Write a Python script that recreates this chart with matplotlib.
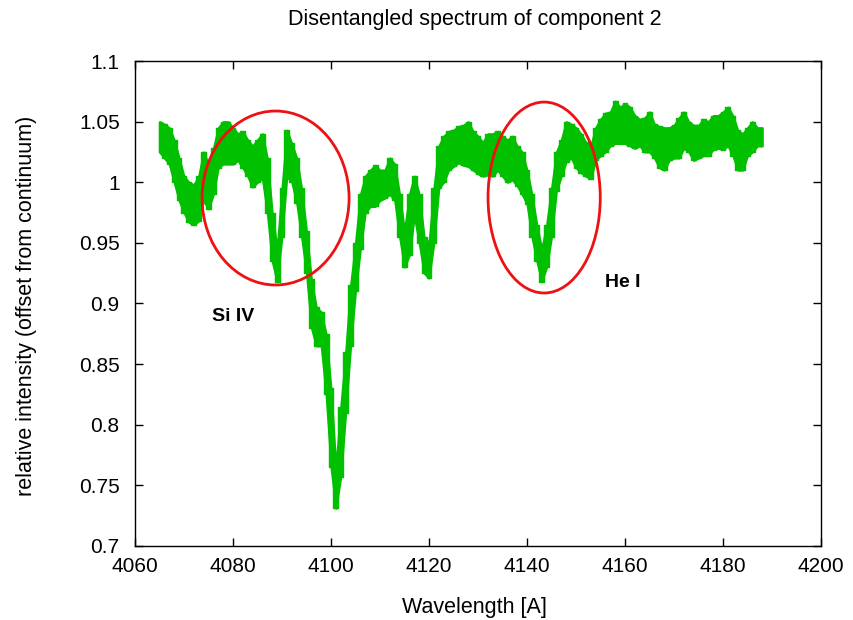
import numpy as np
import matplotlib
matplotlib.use('Agg')
import matplotlib.pyplot as plt
from matplotlib.patches import Ellipse

# Wavelength grid (Angstrom), 1 A step
wl_start, wl_stop = 4065, 4188
# Upper and lower edge of the noisy spectrum band at each wavelength
flux_hi = [1.050, 1.048, 1.045, 1.035, 1.020, 1.005, 1.000, 0.998, 1.005, 1.025,
           1.015, 1.028, 1.045, 1.050, 1.050, 1.045, 1.040, 1.042, 1.035, 1.030,
           1.035, 1.040, 1.020, 0.975, 0.945, 0.995, 1.043, 1.032, 1.020, 0.995,
           0.960, 0.920, 0.897, 0.893, 0.875, 0.830, 0.765, 0.815, 0.860, 0.915,
           0.950, 0.990, 1.005, 1.010, 1.014, 1.010, 1.010, 1.020, 1.015, 0.990,
           0.960, 0.990, 1.005, 0.990, 0.955, 0.950, 0.995, 1.030, 1.038, 1.042,
           1.043, 1.046, 1.047, 1.050, 1.042, 1.038, 1.033, 1.040, 1.040, 1.042,
           1.038, 1.035, 1.038, 1.030, 1.025, 1.010, 0.990, 0.965, 0.945, 0.965,
           0.995, 1.025, 1.035, 1.050, 1.048, 1.045, 1.040, 1.033, 1.030, 1.045,
           1.052, 1.057, 1.058, 1.067, 1.062, 1.065, 1.062, 1.055, 1.052, 1.053,
           1.058, 1.048, 1.046, 1.045, 1.045, 1.047, 1.053, 1.058, 1.050, 1.047,
           1.047, 1.052, 1.050, 1.055, 1.055, 1.058, 1.062, 1.055, 1.043, 1.040,
           1.045, 1.050, 1.045, 1.045]
flux_lo = [1.025, 1.020, 1.015, 1.000, 0.985, 0.975, 0.967, 0.965, 0.968, 0.985,
           0.978, 0.990, 1.012, 1.015, 1.015, 1.015, 1.018, 1.012, 1.005, 0.996,
           1.000, 1.003, 0.975, 0.935, 0.918, 0.955, 1.005, 1.000, 0.983, 0.955,
           0.925, 0.880, 0.865, 0.865, 0.825, 0.765, 0.731, 0.757, 0.810, 0.865,
           0.910, 0.945, 0.975, 0.980, 0.980, 0.985, 0.987, 0.990, 0.985, 0.955,
           0.930, 0.940, 0.972, 0.950, 0.925, 0.921, 0.950, 0.995, 1.000, 1.010,
           1.013, 1.016, 1.014, 1.013, 1.010, 1.007, 1.005, 1.006, 1.005, 1.010,
           1.005, 1.000, 1.002, 0.997, 0.990, 0.982, 0.955, 0.935, 0.918, 0.930,
           0.955, 0.993, 1.005, 1.017, 1.020, 1.012, 1.008, 1.005, 1.003, 1.018,
           1.022, 1.025, 1.030, 1.032, 1.032, 1.032, 1.030, 1.028, 1.030, 1.025,
           1.025, 1.020, 1.012, 1.010, 1.018, 1.020, 1.020, 1.028, 1.025, 1.018,
           1.020, 1.022, 1.022, 1.027, 1.028, 1.027, 1.030, 1.022, 1.010, 1.010,
           1.022, 1.025, 1.030, 1.030]

xticks = [4060, 4080, 4100, 4120, 4140, 4160, 4180, 4200]
yticks = [0.7, 0.75, 0.8, 0.85, 0.9, 0.95, 1.0, 1.05, 1.1]
ytick_labels = ['0.7', '0.75', '0.8', '0.85', '0.9', '0.95', '1', '1.05', '1.1']

# Highlighted lines
ell_centers_x = [4088.7, 4143.5]
ell_centers_y = [0.987, 0.9874]
ell_widths = [30.0, 22.9]
ell_heights = [0.1435, 0.1575]
line_labels = ['Si IV', 'He I']
label_x = [4080.0, 4159.6]
label_y = [0.889, 0.917]

plt.rcParams['font.family'] = ['Liberation Sans', 'DejaVu Sans']

fig = plt.figure(figsize=(8.54, 6.2), dpi=100)
ax = fig.add_axes([0.158, 0.1194, 0.8034, 0.7822])

green = '#00c000'
wl = np.arange(wl_start, wl_stop + 1)
# smooth band (keeps steep line wings continuous)
ax.fill_between(wl, flux_lo, flux_hi, color=green, edgecolor=green, lw=1.5, zorder=2)
# blocky band (gives the pixel-noise texture of the original)
ax.fill_between(wl, flux_lo, flux_hi, step='mid', color=green, edgecolor=green,
                lw=1.0, zorder=2)

for cx, cy, w, h in zip(ell_centers_x, ell_centers_y, ell_widths, ell_heights):
    ax.add_patch(Ellipse((cx, cy), w, h, fill=False, edgecolor='#ee1111', lw=2.0, zorder=3))
for t, lx, ly in zip(line_labels, label_x, label_y):
    ax.text(lx, ly, t, fontsize=14, fontweight='bold', ha='center', va='center', color='black')

ax.set_xlim(4060, 4200)
ax.set_ylim(0.7, 1.1)
ax.set_xticks(xticks)
ax.set_yticks(yticks)
ax.set_yticklabels(ytick_labels)
ax.tick_params(direction='in', length=6, width=1, top=True, right=True,
               labelsize=15, colors='black')
ax.tick_params(axis='x', pad=8)
ax.tick_params(axis='y', pad=11)
for s in ax.spines.values():
    s.set_linewidth(1.0)

fig.text(0.556, 1 - 20 / 620, 'Disentangled spectrum of component 2', fontsize=15.5,
         ha='center', va='center')
fig.text(0.555, 1 - 607 / 620, 'Wavelength [A]', fontsize=15.5, ha='center', va='center')
fig.text(27 / 854, 1 - 306 / 620, 'relative intensity (offset from continuum)', fontsize=15.5,
         ha='center', va='center', rotation=90)

fig.savefig('out.png', dpi=100)
